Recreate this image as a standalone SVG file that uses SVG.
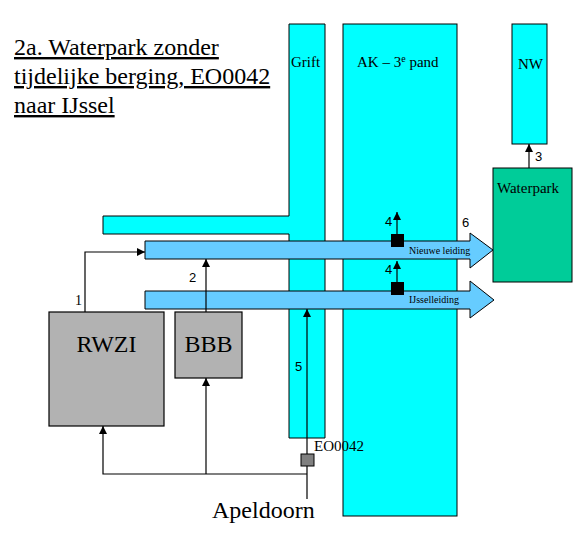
<svg xmlns="http://www.w3.org/2000/svg" width="588" height="540" viewBox="0 0 588 540">
<style>
.ln{stroke:#000;stroke-width:1.2;fill:none}
.water{fill:#00FFFF;stroke:#000;stroke-width:1}
.pipe{fill:#66CCFF;stroke:#000;stroke-width:1}
.box{fill:#B2B2B2;stroke:#000;stroke-width:1.2}
</style>
<defs>
<marker id="ah" markerUnits="userSpaceOnUse" markerWidth="8" markerHeight="8" refX="8" refY="4" orient="auto">
<path d="M0,0 L8,4 L0,8 z" fill="#000"/>
</marker>
</defs>
<rect width="588" height="540" fill="#fff"/>

<g id="title" font-family="'Liberation Serif', 'Times New Roman', 'DejaVu Serif', serif" fill="#000">
<text x="14" y="55" font-size="24" text-decoration="underline">2a. Waterpark zonder</text>
<text x="14" y="84" font-size="24" text-decoration="underline">tijdelijke berging, EO0042</text>
<text x="14" y="113" font-size="24" text-decoration="underline">naar IJssel</text>
</g>

<g id="grift">
<polygon class="water" points="289,24 325,24 325,438 289,438 289,234 103,234 103,216 289,216"/>
<text font-family="'Liberation Serif', 'Times New Roman', serif" x="291" y="67" font-size="15">Grift</text>
</g>

<g id="ak">
<rect class="water" x="343" y="24" width="114" height="492"/>
<text font-family="'Liberation Serif', 'Times New Roman', serif" x="357" y="67" font-size="15">AK – 3<tspan font-size="10" dy="-5">e</tspan><tspan dy="5"> pand</tspan></text>
</g>

<g id="nw">
<rect class="water" x="512" y="24" width="35" height="120"/>
<text font-family="'Liberation Serif', 'Times New Roman', serif" x="518" y="69" font-size="15">NW</text>
</g>

<g id="waterpark">
<rect x="493" y="168" width="79" height="114" fill="#00CC99" stroke="#000" stroke-width="1"/>
<text font-family="'Liberation Serif', 'Times New Roman', serif" x="497" y="193" font-size="15">Waterpark</text>
</g>

<g id="nieuwe-leiding">
<polygon class="pipe" points="145,241 470,241 470,233 493,250 470,268 470,259 145,259"/>
<text font-family="'Liberation Serif', 'Times New Roman', serif" x="409" y="254" font-size="10">Nieuwe leiding</text>
</g>

<g id="ijsselleiding">
<polygon class="pipe" points="145,291 470,291 470,281 494,300 470,318 470,309 145,309"/>
<text font-family="'Liberation Serif', 'Times New Roman', serif" x="409" y="303" font-size="10">IJsselleiding</text>
</g>

<g id="rwzi">
<rect class="box" x="49" y="312" width="115" height="114"/>
<text font-family="'Liberation Serif', 'Times New Roman', serif" x="106.5" y="352" font-size="24" text-anchor="middle">RWZI</text>
</g>

<g id="bbb">
<rect class="box" x="175" y="312" width="67" height="66"/>
<text font-family="'Liberation Serif', 'Times New Roman', serif" x="208.5" y="352" font-size="24" text-anchor="middle">BBB</text>
</g>

<g id="connectors">
<polyline class="ln" points="85,312 85,252 145,252" marker-end="url(#ah)"/>
<line class="ln" x1="206" y1="312" x2="206" y2="259" marker-end="url(#ah)"/>
<line class="ln" x1="529" y1="168" x2="529" y2="144" marker-end="url(#ah)"/>
<line class="ln" x1="397" y1="234" x2="397" y2="212" marker-end="url(#ah)"/>
<line class="ln" x1="397" y1="282" x2="397" y2="261" marker-end="url(#ah)"/>
<line class="ln" x1="307" y1="499" x2="307" y2="309" marker-end="url(#ah)"/>
<polyline class="ln" points="307,474 103,474 103,426" marker-end="url(#ah)"/>
<line class="ln" x1="206" y1="474" x2="206" y2="378" marker-end="url(#ah)"/>
</g>

<g id="valves">
<rect x="391" y="234" width="13" height="13" fill="#000"/>
<rect x="391" y="282" width="13" height="13" fill="#000"/>
</g>

<g id="eo0042">
<rect x="301" y="454" width="13" height="12" fill="#808080" stroke="#000" stroke-width="1"/>
<text font-family="'Liberation Serif', 'Times New Roman', serif" x="314" y="451" font-size="15">EO0042</text>
</g>

<g id="apeldoorn">
<text font-family="'Liberation Serif', 'Times New Roman', serif" x="212" y="518" font-size="24">Apeldoorn</text>
</g>

<g id="labels" fill="#000">
<text font-family="'Liberation Serif', 'Times New Roman', serif" x="75" y="305" font-size="14">1</text>
<text font-family="'Liberation Sans', Arial, sans-serif" x="189" y="282" font-size="13">2</text>
<text font-family="'Liberation Sans', Arial, sans-serif" x="535" y="161" font-size="13">3</text>
<text font-family="'Liberation Sans', Arial, sans-serif" x="385" y="226" font-size="13">4</text>
<text font-family="'Liberation Sans', Arial, sans-serif" x="385" y="274" font-size="13">4</text>
<text font-family="'Liberation Sans', Arial, sans-serif" x="295" y="371" font-size="13">5</text>
<text font-family="'Liberation Sans', Arial, sans-serif" x="462" y="227" font-size="13">6</text>
</g>
</svg>
